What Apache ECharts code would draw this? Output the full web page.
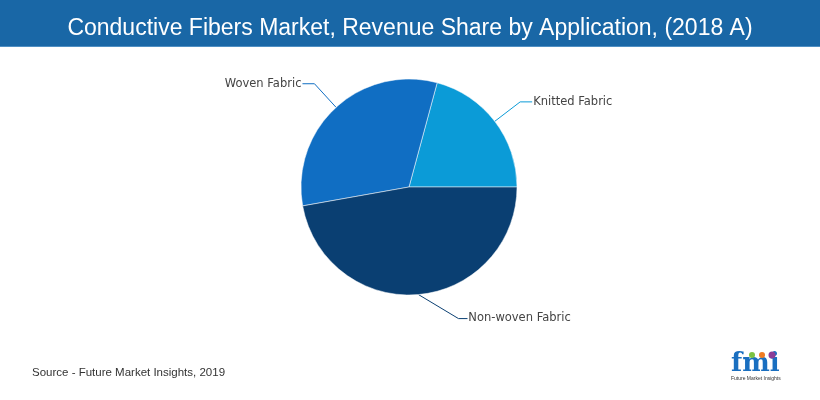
<!DOCTYPE html>
<html><head><meta charset="utf-8">
<script src="https://cdn.jsdelivr.net/npm/echarts@6/dist/echarts.min.js"></script>
<style>html,body{margin:0;padding:0;background:#fff}#c{width:820px;height:400px}</style>
</head><body><div id="c"></div>
<script>
const titleText = 'Conductive Fibers Market, Revenue Share by Application, (2018 A)';
const sourceText = 'Source - Future Market Insights, 2019';
const categories = ['Knitted Fabric', 'Woven Fabric', 'Non-woven Fabric'];
const shares = [20.8, 32.0, 47.2];
const colors = ['#0b9bd7', '#106ec3', '#0a3f72'];

const chart = echarts.init(document.getElementById('c'), null, {renderer: 'canvas'});
chart.setOption({
  animation: false,
  title: {
    text: titleText, left: 'center', top: 12,
    textStyle: {color: '#fff', fontFamily: 'Liberation Sans', fontWeight: 'normal', fontSize: 23}
  },
  graphic: [
    {type: 'rect', z: -1, shape: {x: 0, y: 0, width: 820, height: 46}, style: {fill: '#1967a6'}},
    {type: 'rect', z: -1, shape: {x: 0, y: 46, width: 820, height: 1}, style: {fill: '#4f8fc3'}},
    {type: 'text', left: 32, top: 367, style: {text: sourceText, fill: '#333', font: '11.5px "Liberation Sans"'}},
    {type: 'text', left: 731, top: 351, style: {text: 'fmi', fill: '#1a6fc0', font: 'bold 26px "DejaVu Serif"'}},
    {type: 'circle', shape: {cx: 752, cy: 355, r: 3}, style: {fill: '#7cc242'}},
    {type: 'circle', shape: {cx: 762, cy: 355, r: 3}, style: {fill: '#f07c22'}},
    {type: 'circle', shape: {cx: 772, cy: 355, r: 3.5}, style: {fill: '#8a3d97'}},
    {type: 'text', left: 731, top: 376, style: {text: 'Future Market Insights', fill: '#333', font: '5px "Liberation Sans"'}}
  ],
  series: [{
    type: 'pie',
    center: [409, 187],
    radius: 108,
    startAngle: 0,
    clockwise: false,
    avoidLabelOverlap: false,
    itemStyle: {borderColor: '#fff', borderWidth: 0.5},
    label: {color: '#444', fontFamily: 'DejaVu Sans', fontSize: 11.5, distanceToLabelLine: 1},
    labelLine: {length: 32, length2: 12, smooth: false, lineStyle: {width: 1}},
    labelLayout: function (p) {
      if (p.dataIndex === 2 && p.labelLinePoints) {
        const a = p.labelLinePoints[0];
        return {
          dx: 34, dy: -8,
          labelLinePoints: [[a[0], a[1]], [a[0] + 40, a[1] + 24], [a[0] + 49, a[1] + 24]]
        };
      }
      return {};
    },
    data: categories.map((n, i) => ({name: n, value: shares[i], itemStyle: {color: colors[i]}}))
  }]
});
</script></body></html>
